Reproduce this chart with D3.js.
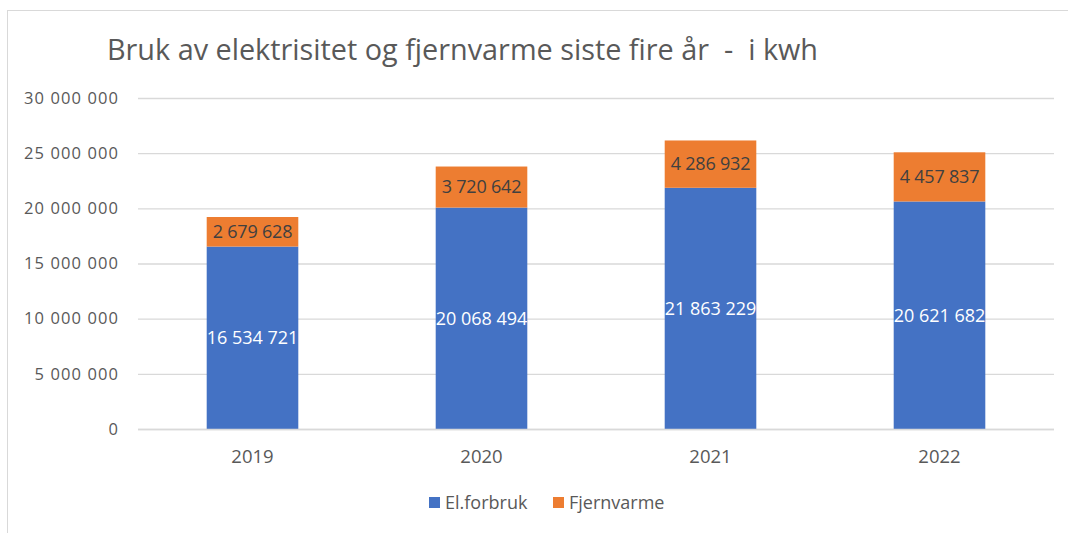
<!DOCTYPE html>
<html><head><meta charset="utf-8">
<script src="https://cdn.jsdelivr.net/npm/d3@7"></script>
<style>body{margin:0;background:#fff}svg{display:block}text{font-family:"Open Sans",sans-serif;white-space:pre}</style>
</head><body><svg id="c" width="1068" height="533"></svg>
<script>
const years = ["2019", "2020", "2021", "2022"];
const elforbruk = [16534721, 20068494, 21863229, 20621682];
const fjernvarme = [2679628, 3720642, 4286932, 4457837];
const yTicks = [0, 5000000, 10000000, 15000000, 20000000, 25000000, 30000000];
const seriesNames = ["El.forbruk", "Fjernvarme"];
const colors = ["#4472C4", "#ED7D31"];

const svg = d3.select("#c");
const fmt = v => d3.format(",")(v).replace(/,/g, " ");
const pLeft = 138, pRight = 1054, pTop = 98, pBottom = 429;

svg.append("rect").attr("x", 7.5).attr("y", 10.5).attr("width", 1100).attr("height", 600)
  .attr("fill", "#fff").attr("stroke", "#d9d9d9");

svg.append("text").attr("x", 107).attr("y", 60)
  .attr("font-size", 28.8).attr("letter-spacing", 0).attr("fill", "#595959").text("Bruk av elektrisitet og fjernvarme siste fire år  -  i kwh");

const x = d3.scaleBand().domain(years).range([pLeft, pRight]).paddingInner(0.6).paddingOuter(0.3);
const y = d3.scaleLinear().domain([0, 30000000]).range([pBottom, pTop]);

const yAxis = svg.append("g").attr("transform", `translate(${pLeft},0)`)
  .call(d3.axisLeft(y).tickValues(yTicks).tickFormat(fmt).tickSize(-(pRight - pLeft)).tickPadding(19));
yAxis.select(".domain").remove();
yAxis.selectAll("line").attr("stroke", "#d9d9d9").attr("stroke-width", 1.3);
yAxis.selectAll("text").attr("font-size", 16.5).attr("letter-spacing", 1.1).attr("fill", "#595959");

const data = years.map((yr, i) => ({yr, el: elforbruk[i], fj: fjernvarme[i]}));
const g = svg.append("g");
g.selectAll(".el").data(data).join("rect")
  .attr("x", d => x(d.yr)).attr("width", x.bandwidth())
  .attr("y", d => y(d.el)).attr("height", d => y(0) - y(d.el)).attr("fill", colors[0]);
g.selectAll(".fj").data(data).join("rect")
  .attr("x", d => x(d.yr)).attr("width", x.bandwidth())
  .attr("y", d => y(d.el + d.fj)).attr("height", d => y(d.el) - y(d.el + d.fj)).attr("fill", colors[1]);

svg.append("line").attr("x1", pLeft).attr("x2", pRight).attr("y1", y(0) + 0.5).attr("y2", y(0) + 0.5)
  .attr("stroke", "#d9d9d9").attr("stroke-width", 1.3);

g.selectAll(".ell").data(data).join("text")
  .attr("x", d => x(d.yr) + x.bandwidth() / 2).attr("y", d => y(d.el / 2)).attr("dy", "0.35em")
  .attr("text-anchor", "middle").attr("font-size", 18).attr("letter-spacing", 0).attr("fill", "#fff").text(d => fmt(d.el));
g.selectAll(".fjl").data(data).join("text")
  .attr("x", d => x(d.yr) + x.bandwidth() / 2).attr("y", d => y(d.el + d.fj / 2)).attr("dy", "0.35em")
  .attr("text-anchor", "middle").attr("font-size", 18).attr("letter-spacing", -0.2).attr("fill", "#404040").text(d => fmt(d.fj));

const xAxis = svg.append("g").attr("transform", `translate(0,${pBottom})`)
  .call(d3.axisBottom(x).tickSize(0).tickPadding(21));
xAxis.select(".domain").remove();
xAxis.selectAll("text").attr("font-size", 18.5).attr("fill", "#595959");

const legX = [429, 553];
const leg = svg.append("g");
seriesNames.forEach((n, i) => {
  leg.append("rect").attr("x", legX[i]).attr("y", 497).attr("width", 11).attr("height", 11).attr("fill", colors[i]);
  leg.append("text").attr("x", legX[i] + 16).attr("y", 503).attr("dy", "0.35em")
    .attr("font-size", 18).attr("fill", "#595959").text(n);
});
</script></body></html>
